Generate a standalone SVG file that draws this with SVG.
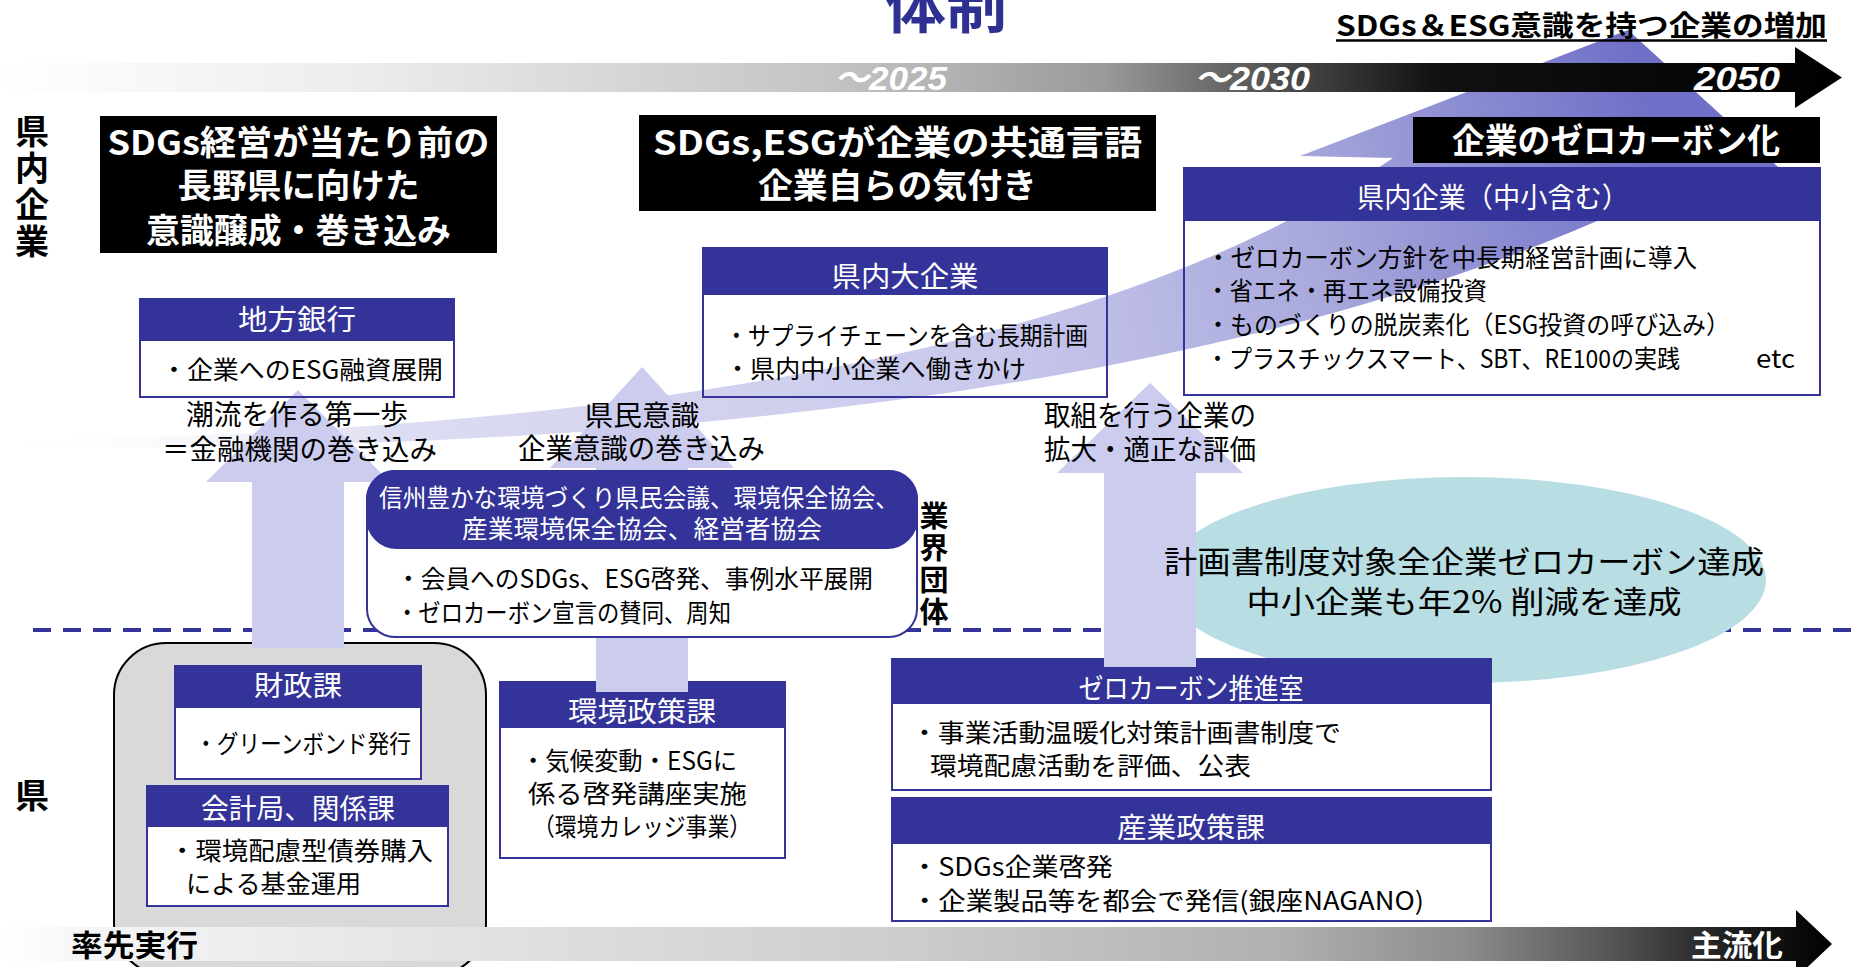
<svg xmlns="http://www.w3.org/2000/svg" width="1856" height="967" viewBox="0 0 1856 967">
<defs>
<linearGradient id="swooshG" gradientUnits="userSpaceOnUse" x1="0" y1="445" x2="1630" y2="40">
<stop offset="0" stop-color="#ffffff" stop-opacity="0"/>
<stop offset="0.235" stop-color="#dcdcf2"/>
<stop offset="0.59" stop-color="#c8c8ec"/>
<stop offset="0.79" stop-color="#a8a8dc"/>
<stop offset="1" stop-color="#7070c8"/>
</linearGradient>
<linearGradient id="topBarG" gradientUnits="userSpaceOnUse" x1="0" y1="0" x2="1842" y2="0">
<stop offset="0" stop-color="#ffffff"/>
<stop offset="0.2" stop-color="#ececec"/>
<stop offset="0.45" stop-color="#c4c4c4"/>
<stop offset="0.6" stop-color="#9a9a9a"/>
<stop offset="0.7" stop-color="#4a4a4a"/>
<stop offset="0.78" stop-color="#111111"/>
<stop offset="1" stop-color="#000000"/>
</linearGradient>
<linearGradient id="botBarG" gradientUnits="userSpaceOnUse" x1="0" y1="0" x2="1832" y2="0">
<stop offset="0" stop-color="#ffffff"/>
<stop offset="0.05" stop-color="#f5f5f5"/>
<stop offset="0.5" stop-color="#cccccc"/>
<stop offset="0.7" stop-color="#b0b0b0"/>
<stop offset="0.8" stop-color="#8c8c8c"/>
<stop offset="0.88" stop-color="#555555"/>
<stop offset="0.94" stop-color="#222222"/>
<stop offset="1" stop-color="#000000"/>
</linearGradient>
</defs>
<style>
text{font-family:'Noto Sans CJK JP','Noto Sans',sans-serif}
.hdr{fill:#333399;stroke:#333399;stroke-width:2}
.box{fill:#ffffff;stroke:#333399;stroke-width:2}
.boxT{fill:none;stroke:#333399;stroke-width:2}
.ht{font-size:28px;fill:#ffffff;text-anchor:middle}
.bt{font-size:25px;fill:#000000}
.lbl{font-size:28px;fill:#000000;text-anchor:middle}
.bk{fill:#000000}
.bkt{font-size:34px;font-weight:bold;fill:#ffffff;text-anchor:middle}
.vt{font-size:34px;font-weight:bold;fill:#000000;text-anchor:middle}
.vv{font-weight:bold;fill:#000000;writing-mode:vertical-rl;text-orientation:upright}
.yr{font-family:'Liberation Sans','Noto Sans CJK JP',sans-serif;font-size:34px;font-weight:bold;font-style:italic;fill:#ffffff}
.up{fill:#ccccee}
</style>

<!-- swoosh -->
<path id="swoosh" d="M0,447 Q1150,460 1700,172 L1790,178 L1628,30 L1300,156 L1393,158 Q1000,430 0,440 Z" fill="url(#swooshG)"/>

<!-- timeline -->
<g id="timeline">
<path d="M0,63 H1795 V47 L1842,77.5 L1795,108 V92 H0 Z" fill="url(#topBarG)"/>
<text class="yr" x="834" y="90" textLength="113" lengthAdjust="spacingAndGlyphs">～2025</text>
<text class="yr" x="1194" y="90" textLength="116" lengthAdjust="spacingAndGlyphs">～2030</text>
<text class="yr" x="1694" y="90" textLength="86" lengthAdjust="spacingAndGlyphs">2050</text>
</g>

<g id="title">
<text x="885" y="28" font-size="60" font-weight="bold" fill="#2e3192" textLength="122" lengthAdjust="spacingAndGlyphs">体制</text>
</g>
<g id="subtitle">
<text x="1336" y="36" font-size="28" font-weight="bold" fill="#000" textLength="491" lengthAdjust="spacingAndGlyphs">SDGs＆ESG意識を持つ企業の増加</text>
<line x1="1336" y1="40.5" x2="1827" y2="40.5" stroke="#000" stroke-width="2.5"/>
</g>

<!-- divider -->
<line id="divider" x1="33" y1="630" x2="1856" y2="630" stroke="#333399" stroke-width="4" stroke-dasharray="18 12"/>

<!-- prefecture group background -->
<rect id="kenGroup" x="114" y="643" width="372" height="332" rx="52" ry="52" fill="#d9d9d9" stroke="#000" stroke-width="2"/>

<!-- goal ellipse -->
<g id="goal">
<ellipse cx="1464" cy="580" rx="302" ry="103" fill="#b8dde2"/>
</g>

<!-- lower boxes -->
<g id="zaisei">
<rect class="box" x="175" y="666" width="246" height="113"/>
<rect class="hdr" x="175" y="666" width="246" height="41"/>
<text class="ht" x="298" y="696" textLength="88" lengthAdjust="spacingAndGlyphs">財政課</text>
<text class="bt" x="195" y="753" textLength="216" lengthAdjust="spacingAndGlyphs">・グリーンボンド発行</text>
</g>
<g id="kaikei">
<rect class="box" x="147" y="786" width="301" height="120"/>
<rect class="hdr" x="147" y="786" width="301" height="40"/>
<text class="ht" x="298" y="819" textLength="194" lengthAdjust="spacingAndGlyphs">会計局、関係課</text>
<text class="bt" font-size="26"><tspan x="169" y="860" textLength="264" lengthAdjust="spacingAndGlyphs">・環境配慮型債券購入</tspan><tspan x="186" y="893" textLength="175" lengthAdjust="spacingAndGlyphs">による基金運用</tspan></text>
</g>
<g id="kankyo">
<rect class="box" x="500" y="682" width="285" height="176"/>
<rect class="hdr" x="500" y="682" width="285" height="45"/>
<text class="ht" x="642" y="722" textLength="148" lengthAdjust="spacingAndGlyphs">環境政策課</text>
<text class="bt" font-size="26"><tspan x="521" y="770" textLength="216" lengthAdjust="spacingAndGlyphs">・気候変動・ESGに</tspan><tspan x="528" y="803" textLength="219" lengthAdjust="spacingAndGlyphs">係る啓発講座実施</tspan><tspan x="533" y="836" textLength="218" lengthAdjust="spacingAndGlyphs">（環境カレッジ事業）</tspan></text>
</g>
<g id="zerocarbon">
<rect class="box" x="892" y="659" width="599" height="131"/>
<rect class="hdr" x="892" y="659" width="599" height="44"/>
<text class="ht" x="1191" y="699" textLength="225" lengthAdjust="spacingAndGlyphs">ゼロカーボン推進室</text>
<text class="bt" font-size="26"><tspan x="911" y="742" textLength="430" lengthAdjust="spacingAndGlyphs">・事業活動温暖化対策計画書制度で</tspan><tspan x="930" y="775" textLength="321" lengthAdjust="spacingAndGlyphs">環境配慮活動を評価、公表</tspan></text>
</g>
<g id="sangyo">
<rect class="box" x="892" y="798" width="599" height="123"/>
<rect class="hdr" x="892" y="798" width="599" height="45"/>
<text class="ht" x="1191" y="838" textLength="148" lengthAdjust="spacingAndGlyphs">産業政策課</text>
<text class="bt" font-size="26"><tspan x="911" y="876" textLength="202" lengthAdjust="spacingAndGlyphs">・SDGs企業啓発</tspan><tspan x="911" y="910" textLength="513" lengthAdjust="spacingAndGlyphs">・企業製品等を都会で発信(銀座NAGANO)</tspan></text>
</g>

<!-- connectors: upward block arrows -->
<g id="connectors">
<path class="up" d="M298,390 L390,482 L344,482 L344,648 L252,648 L252,482 L206,482 Z"/>
<path class="up" d="M642,367 L734,468 L688,468 L688,692 L596,692 L596,468 L550,468 Z"/>
<path class="up" d="M1150,383 L1243,473 L1196,473 L1196,667 L1104,667 L1104,473 L1057,473 Z"/>
</g>

<!-- industry association box -->
<g id="gyokai">
<rect class="box" x="367" y="471" width="550" height="166" rx="28" ry="28"/>
<rect class="hdr" x="367" y="471" width="550" height="77" rx="30" ry="30"/>
<text font-size="25" fill="#fff"><tspan x="379" y="507" textLength="520" lengthAdjust="spacingAndGlyphs">信州豊かな環境づくり県民会議、環境保全協会、</tspan><tspan x="462" y="538" textLength="360" lengthAdjust="spacingAndGlyphs">産業環境保全協会、経営者協会</tspan></text>
<text class="bt"><tspan x="396" y="588" textLength="477" lengthAdjust="spacingAndGlyphs">・会員へのSDGs、ESG啓発、事例水平展開</tspan><tspan x="396" y="622" textLength="335" lengthAdjust="spacingAndGlyphs">・ゼロカーボン宣言の賛同、周知</tspan></text>
</g>

<!-- upper boxes -->
<g id="chihoginko">
<rect class="boxT" x="140" y="299" width="314" height="98"/>
<rect class="hdr" x="140" y="299" width="314" height="41"/>
<text class="ht" x="297" y="329.5" textLength="118" lengthAdjust="spacingAndGlyphs">地方銀行</text>
<text class="bt" x="161" y="379" textLength="282" lengthAdjust="spacingAndGlyphs">・企業へのESG融資展開</text>
</g>
<g id="daikigyo">
<rect class="boxT" x="703" y="248" width="404" height="149"/>
<rect class="hdr" x="703" y="248" width="404" height="46"/>
<text class="ht" x="905" y="287" textLength="147" lengthAdjust="spacingAndGlyphs">県内大企業</text>
<text class="bt"><tspan x="725" y="345" textLength="363" lengthAdjust="spacingAndGlyphs">・サプライチェーンを含む長期計画</tspan><tspan x="725" y="378" textLength="301" lengthAdjust="spacingAndGlyphs">・県内中小企業へ働きかけ</tspan></text>
</g>
<g id="kenkigyo">
<rect class="boxT" x="1184" y="168" width="636" height="227"/>
<rect class="hdr" x="1184" y="168" width="636" height="52"/>
<text class="ht" x="1493" y="208" textLength="272" lengthAdjust="spacingAndGlyphs">県内企業（中小含む）</text>
<text class="bt"><tspan x="1206" y="267" textLength="491" lengthAdjust="spacingAndGlyphs">・ゼロカーボン方針を中長期経営計画に導入</tspan><tspan x="1206" y="300" textLength="281" lengthAdjust="spacingAndGlyphs">・省エネ・再エネ設備投資</tspan><tspan x="1206" y="334" textLength="524" lengthAdjust="spacingAndGlyphs">・ものづくりの脱炭素化（ESG投資の呼び込み）</tspan><tspan x="1206" y="368" textLength="474" lengthAdjust="spacingAndGlyphs">・プラスチックスマート、SBT、RE100の実践</tspan></text>
<text class="bt" x="1756" y="368" textLength="39" lengthAdjust="spacingAndGlyphs">etc</text>
</g>

<!-- black headline boxes -->
<g id="phase1">
<rect class="bk" x="100" y="116" width="397" height="137"/>
<text class="bkt"><tspan x="298.5" y="155" textLength="382" lengthAdjust="spacingAndGlyphs">SDGs経営が当たり前の</tspan><tspan x="298.5" y="198" textLength="242" lengthAdjust="spacingAndGlyphs">長野県に向けた</tspan><tspan x="298.5" y="243" textLength="305" lengthAdjust="spacingAndGlyphs">意識醸成・巻き込み</tspan></text>
</g>
<g id="phase2">
<rect class="bk" x="639" y="115" width="517" height="96"/>
<text class="bkt"><tspan x="897.5" y="155" textLength="489" lengthAdjust="spacingAndGlyphs">SDGs,ESGが企業の共通言語</tspan><tspan x="897.5" y="198" textLength="279" lengthAdjust="spacingAndGlyphs">企業自らの気付き</tspan></text>
</g>
<g id="phase3">
<rect class="bk" x="1413" y="117" width="407" height="46"/>
<text class="bkt" x="1616" y="152.5" textLength="328" lengthAdjust="spacingAndGlyphs">企業のゼロカーボン化</text>
</g>

<!-- arrow labels -->
<g id="label1">
<text class="lbl"><tspan x="297" y="425" textLength="222" lengthAdjust="spacingAndGlyphs">潮流を作る第一歩</tspan><tspan x="299.5" y="460" textLength="275" lengthAdjust="spacingAndGlyphs">＝金融機関の巻き込み</tspan></text>
</g>
<g id="label2">
<text class="lbl"><tspan x="642" y="425.5" textLength="115" lengthAdjust="spacingAndGlyphs">県民意識</tspan><tspan x="641.5" y="459" textLength="247" lengthAdjust="spacingAndGlyphs">企業意識の巻き込み</tspan></text>
</g>
<g id="label3">
<text class="lbl"><tspan x="1150" y="425.5" textLength="212" lengthAdjust="spacingAndGlyphs">取組を行う企業の</tspan><tspan x="1150" y="459.5" textLength="212" lengthAdjust="spacingAndGlyphs">拡大・適正な評価</tspan></text>
</g>

<g id="goal-label">
<text font-size="31" fill="#000" text-anchor="middle"><tspan x="1464" y="572.5" textLength="600" lengthAdjust="spacingAndGlyphs">計画書制度対象全企業ゼロカーボン達成</tspan><tspan x="1464" y="613" textLength="435" lengthAdjust="spacingAndGlyphs">中小企業も年2% 削減を達成</tspan></text>
</g>

<!-- side labels -->
<g id="side-kennai">
<text class="vv" x="32" y="114" font-size="34" letter-spacing="2.7">県内企業</text>
</g>
<g id="side-gyokai">
<text class="vv" x="934" y="501" font-size="29" letter-spacing="3">業界団体</text>
</g>
<g id="side-ken">
<text class="vt" x="32" y="808">県</text>
</g>

<!-- bottom axis -->
<g id="axis-bottom">
<path d="M0,927 H1796 V910 L1832,944 L1796,978 V961 H0 Z" fill="url(#botBarG)"/>
<text x="71" y="956" font-size="30" font-weight="bold" fill="#000" textLength="127" lengthAdjust="spacingAndGlyphs">率先実行</text>
<text x="1691" y="956" font-size="30" font-weight="bold" fill="#fff" textLength="92" lengthAdjust="spacingAndGlyphs">主流化</text>
</g>
</svg>
